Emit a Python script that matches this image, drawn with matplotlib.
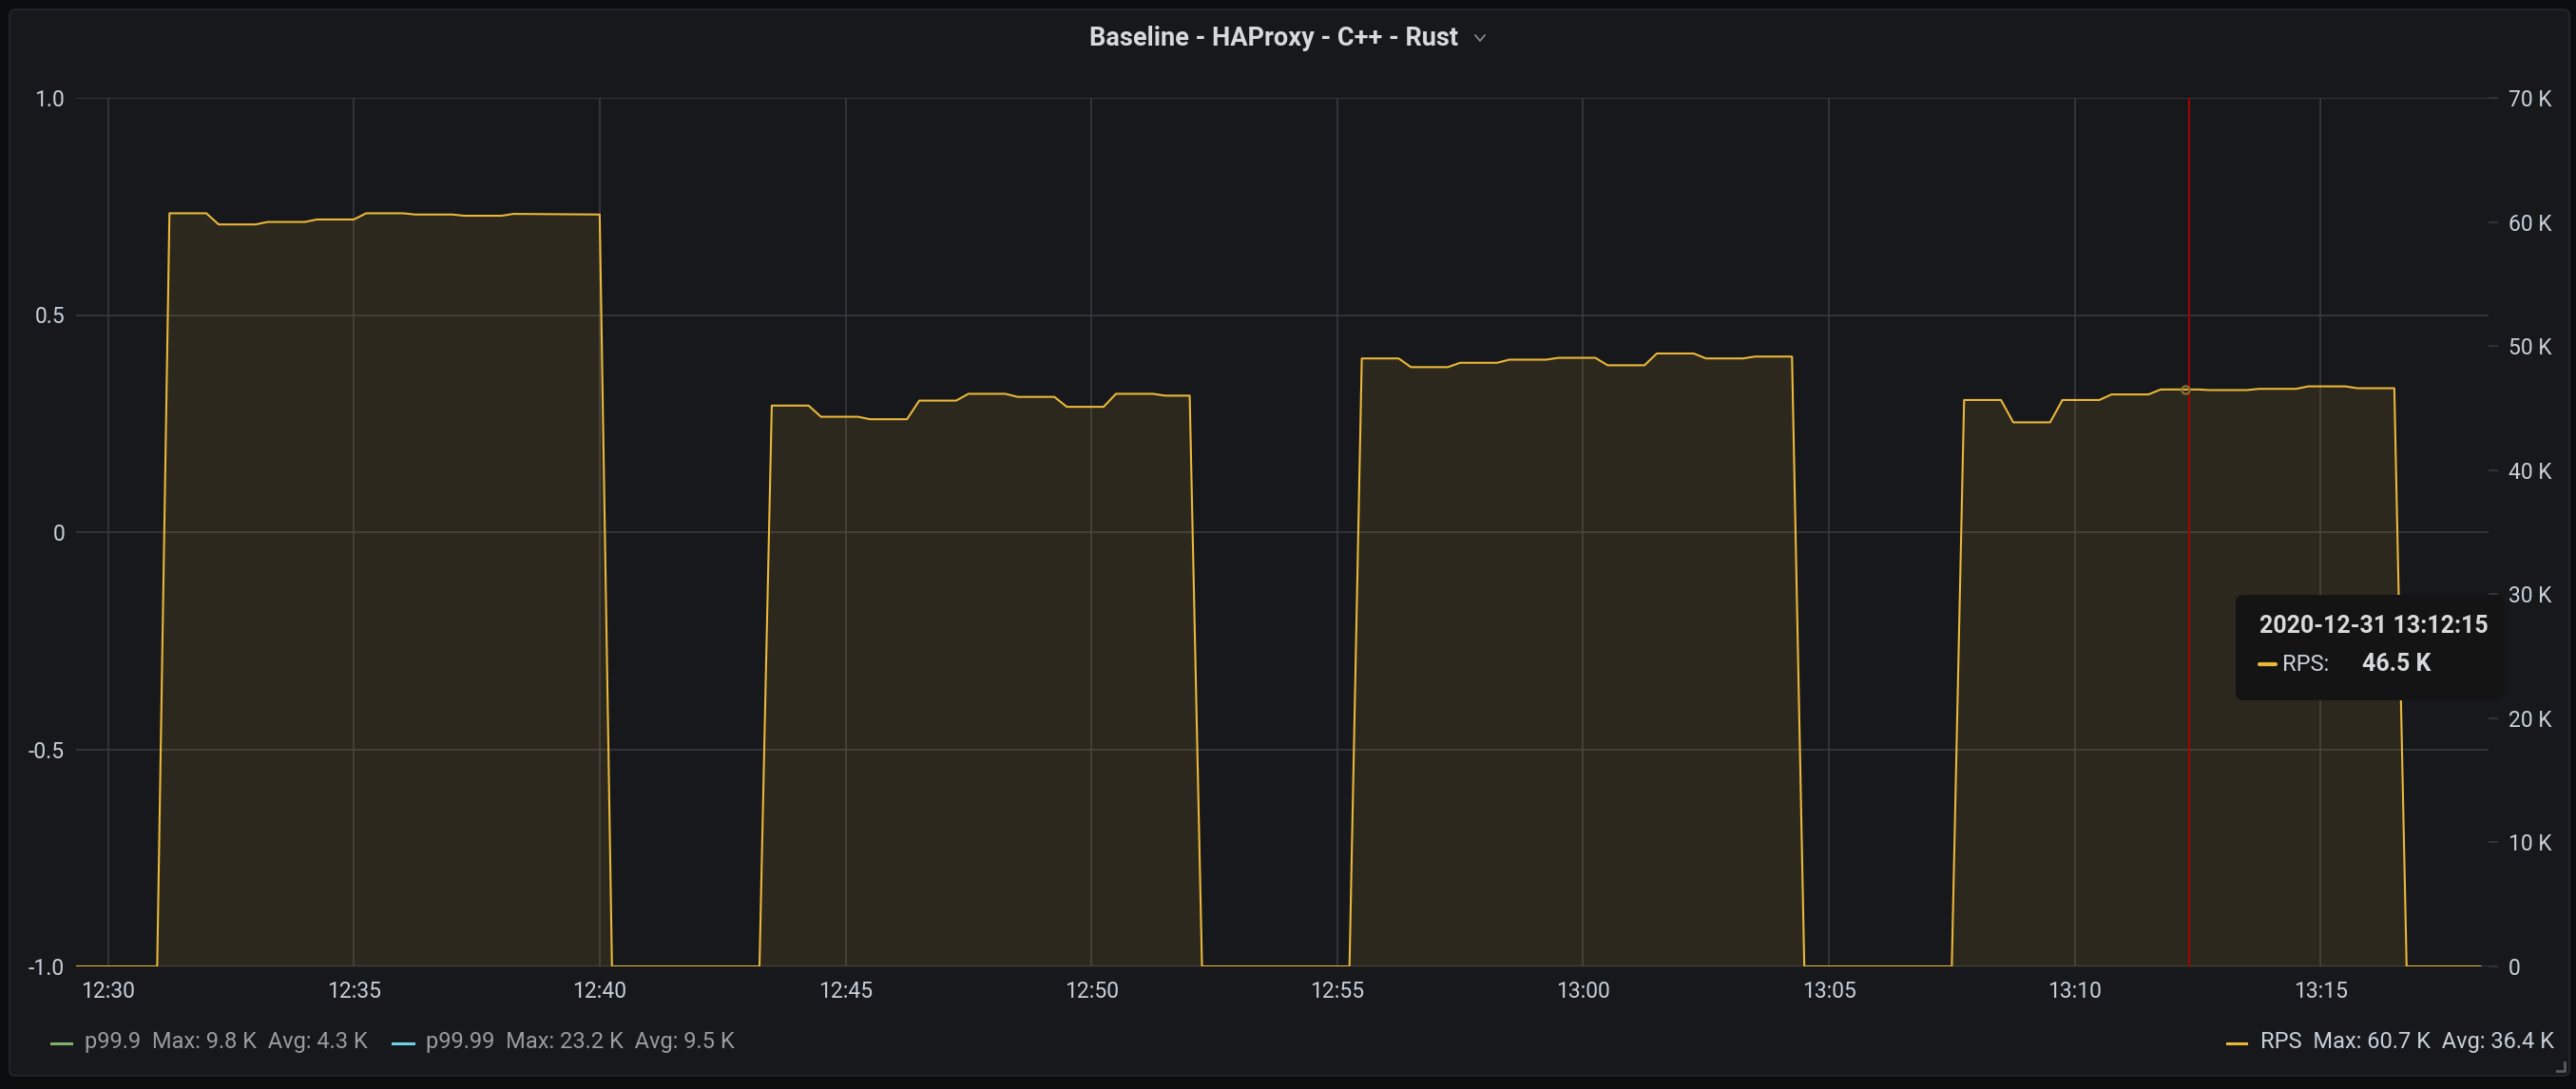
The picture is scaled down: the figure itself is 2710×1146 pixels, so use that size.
import pandas as pd
import matplotlib
matplotlib.use("Agg")
import matplotlib.pyplot as plt
import matplotlib.dates as mdates
from matplotlib.patches import FancyBboxPatch
from matplotlib.lines import Line2D
from matplotlib.transforms import IdentityTransform

W, H = 2710, 1146

title = "Baseline - HAProxy - C++ - Rust"
day = "2020-12-31"

# RPS series (thousands of requests/s), vertices
rps_times = [
    "12:29:15", "12:31:00", "12:31:15", "12:32:00", "12:32:15", "12:33:00", "12:33:15",
    "12:34:00", "12:34:15", "12:35:00", "12:35:15", "12:36:00", "12:36:15", "12:37:00",
    "12:37:15", "12:38:00", "12:38:15", "12:40:00", "12:40:15",
    "12:43:15", "12:43:30", "12:44:15", "12:44:30", "12:45:15", "12:45:30", "12:46:15",
    "12:46:30", "12:47:15", "12:47:30", "12:48:15", "12:48:30", "12:49:15", "12:49:30",
    "12:50:15", "12:50:30", "12:51:15", "12:51:30", "12:52:00", "12:52:15",
    "12:55:15", "12:55:30", "12:56:15", "12:56:30", "12:57:15", "12:57:30", "12:58:15",
    "12:58:30", "12:59:15", "12:59:30", "13:00:15", "13:00:30", "13:01:15", "13:01:30",
    "13:02:15", "13:02:30", "13:03:15", "13:03:30", "13:04:15", "13:04:30",
    "13:07:30", "13:07:45", "13:08:30", "13:08:45", "13:09:30", "13:09:45", "13:10:30",
    "13:10:45", "13:11:30", "13:11:45", "13:12:30", "13:12:45", "13:13:30", "13:13:45",
    "13:14:30", "13:14:45", "13:15:30", "13:15:45", "13:16:30", "13:16:45", "13:18:15",
]
rps_values = [
    0, 0, 60.7, 60.7, 59.8, 59.8, 60.0,
    60.0, 60.2, 60.2, 60.7, 60.7, 60.6, 60.6,
    60.5, 60.5, 60.65, 60.6, 0,
    0, 45.2, 45.2, 44.3, 44.3, 44.1, 44.1,
    45.6, 45.6, 46.15, 46.15, 45.9, 45.9, 45.1,
    45.1, 46.15, 46.15, 46.0, 46.0, 0,
    0, 49.0, 49.0, 48.3, 48.3, 48.65, 48.65,
    48.9, 48.9, 49.05, 49.05, 48.45, 48.45, 49.4,
    49.4, 49.0, 49.0, 49.15, 49.15, 0,
    0, 45.65, 45.65, 43.85, 43.85, 45.65, 45.65,
    46.1, 46.1, 46.5, 46.5, 46.45, 46.45, 46.55,
    46.55, 46.75, 46.75, 46.6, 46.6, 0, 0,
]

left_ticks = [-1.0, -0.5, 0, 0.5, 1.0]
left_labels = ["-1.0", "-0.5", "0", "0.5", "1.0"]
right_ticks = [0, 10, 20, 30, 40, 50, 60, 70]
right_labels = ["0", "10 K", "20 K", "30 K", "40 K", "50 K", "60 K", "70 K"]

legend_names = ["p99.9", "p99.99", "RPS"]
legend_max = ["9.8 K", "23.2 K", "60.7 K"]
legend_avg = ["4.3 K", "9.5 K", "36.4 K"]
legend_colors = ["#7eb26d", "#6ed0e0", "#eab839"]

hover_time = "13:12:15"
hover_value = 46.5
cursor_time = "13:12:20"

BG_OUT = "#0b0c0e"
BG_PANEL = "#17181c"
GRID = "#3a3c41"
TEXT = "#c7d0d9"
YELLOW = "#eab839"

plt.rcParams["font.family"] = ["Roboto", "DejaVu Sans"]


def px(x, y):
    return x, H - y


def fx(x, y):
    return x / W, 1 - y / H


def main():
    fig = plt.figure(figsize=(W / 100, H / 100), dpi=100, facecolor=BG_OUT)

    # panel
    x0, y0 = px(10, 1132)
    fig.patches.append(FancyBboxPatch((x0, y0), 2693, 1122,
                                      boxstyle="round,pad=0,rounding_size=6",
                                      transform=IdentityTransform(), fc=BG_PANEL,
                                      ec="#25272c", lw=1.2, zorder=-2))

    ax = fig.add_axes([80 / W, 1 - 1017 / H, (2618 - 80) / W, (1017 - 103) / H])
    ax.set_facecolor(BG_PANEL)
    ax2 = ax.twinx()

    t = pd.to_datetime([f"{day} {s}" for s in rps_times])
    ax2.fill_between(t, rps_values, 0, color=YELLOW, alpha=0.1, lw=0)
    ax2.plot(t, rps_values, color=YELLOW, lw=1.5)

    cur = pd.Timestamp(f"{day} {cursor_time}")
    ax2.axvline(cur, color="#b00000", lw=1.3)
    ax2.plot([pd.Timestamp(f"{day} {hover_time}")], [hover_value], "o", ms=6,
             mfc="none", mec="#8a7330", mew=1.5)

    ax.set_xlim(pd.Timestamp(f"{day} 12:29:21"), pd.Timestamp(f"{day} 13:18:25"))
    ax.set_ylim(-1, 1)
    ax2.set_ylim(0, 70)
    ax.set_yticks(left_ticks)
    ax.set_yticklabels(left_labels)
    ax2.set_yticks(right_ticks)
    ax2.set_yticklabels(right_labels)
    ax.xaxis.set_major_locator(mdates.MinuteLocator(byminute=range(0, 60, 5)))
    ax.xaxis.set_major_formatter(mdates.DateFormatter("%H:%M"))

    ax.grid(True, color=GRID, lw=1.1)
    ax.set_axisbelow(True)
    for a in (ax, ax2):
        for s in a.spines.values():
            s.set_visible(False)
    ax.tick_params(axis="x", length=0, pad=11, labelsize=16.5, labelcolor=TEXT)
    ax.tick_params(axis="y", length=0, pad=8.5, labelsize=16.5, labelcolor=TEXT)
    ax2.tick_params(axis="y", length=7.2, width=1.1, color=GRID, pad=8,
                    labelsize=16.5, labelcolor=TEXT)

    # title + chevron
    tx, ty = fx(1340, 40)
    fig.text(tx, ty, title, ha="center", va="center", fontsize=19.5,
             fontweight="semibold", color="#d8d9da")
    fig.lines.append(Line2D([1552, 1557, 1562], [H - 37, H - 43, H - 37],
                            transform=IdentityTransform(), color="#8e8e8e", lw=1.2))

    # legend
    dash_x = [(54, 75), (413, 435), (2343, 2363)]
    text_x = [89, 448, 2378]
    text_col = ["#9a9b9e", "#9a9b9e", TEXT]
    for i in range(3):
        fig.lines.append(Line2D(list(dash_x[i]), [H - 1098, H - 1098],
                                transform=IdentityTransform(),
                                color=legend_colors[i], lw=2.2))
        lx, ly = fx(text_x[i], 1097)
        fig.text(lx, ly, f"{legend_names[i]}  Max: {legend_max[i]}  Avg: {legend_avg[i]}",
                 ha="left", va="center", fontsize=17, color=text_col[i])

    # tooltip
    bx, by = px(2352, 737)
    fig.patches.append(FancyBboxPatch((bx, by), 283, 111,
                                      boxstyle="round,pad=0,rounding_size=8",
                                      transform=IdentityTransform(), fc="#141414",
                                      ec="none", zorder=5))
    hx, hy = fx(2377, 659)
    fig.text(hx, hy, f"{day} {hover_time}", ha="left", va="center", fontsize=18,
             fontweight="bold", color="#d8d9da", zorder=6)
    fig.lines.append(Line2D([2377, 2394], [H - 699, H - 699], transform=IdentityTransform(),
                            color=YELLOW, lw=3, solid_capstyle="round", zorder=6))
    rx, ry = fx(2401, 699)
    fig.text(rx, ry, "RPS:", ha="left", va="center", fontsize=17, color=TEXT, zorder=6)
    vx, vy = fx(2485, 699)
    fig.text(vx, vy, f"{hover_value} K", ha="left", va="center", fontsize=18,
             fontweight="bold", color="#d8d9da", zorder=6)

    # resize handle
    fig.lines.append(Line2D([2690, 2698, 2698], [H - 1127, H - 1127, H - 1118],
                            transform=IdentityTransform(), color="#5a5c60", lw=2))

    fig.savefig("out.png", dpi=100, facecolor=BG_OUT)


if __name__ == "__main__":
    main()
